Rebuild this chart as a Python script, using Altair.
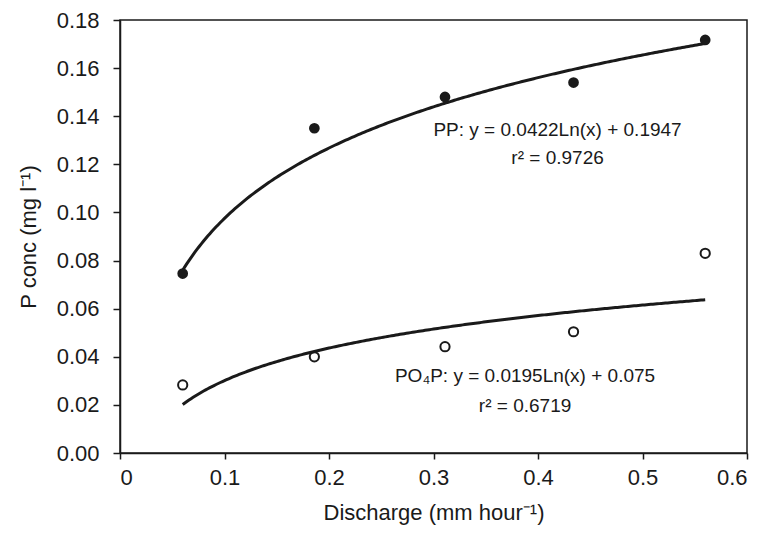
import altair as alt
import pandas as pd

# Discharge rate (mm hour^-1) at each sampling step
discharge = [0.060, 0.186, 0.311, 0.434, 0.560]
# Particulate P (filled markers) and PO4-P (open markers), mg l^-1
pp_conc = [0.0746, 0.135, 0.148, 0.154, 0.1717]
po4p_conc = [0.0283, 0.040, 0.0442, 0.0504, 0.083]

# Logarithmic fits y = a*Ln(x) + b, as reported on the chart
fit_slope = [0.0422, 0.0195]
fit_intercept = [0.1947, 0.075]

# Fit annotations
note_text = ["PP: y = 0.0422Ln(x) + 0.1947", "r\u00b2 = 0.9726",
             "PO\u2084P: y = 0.0195Ln(x) + 0.075", "r\u00b2 = 0.6719"]
note_x = [0.4187, 0.4187, 0.3876, 0.3876]
note_y = [0.1317, 0.1200, 0.0296, 0.0171]

FONT = "Liberation Sans"
INK = "#1a1a1a"

pp = pd.DataFrame({"q": discharge, "p": pp_conc})
po = pd.DataFrame({"q": discharge, "p": po4p_conc})
notes = pd.DataFrame({"text": note_text, "q": note_x, "p": note_y})

x_scale = alt.Scale(domain=[0, 0.6], nice=False, zero=True)
y_scale = alt.Scale(domain=[0, 0.18], nice=False)

axis_style = dict(
    grid=False,
    domainColor=INK, domainWidth=1.5,
    tickColor=INK, tickWidth=1.5,
    labelFont=FONT, labelFontSize=22, labelColor=INK,
    titleFont=FONT, titleFontSize=22, titleColor=INK, titleFontWeight="normal",
)

x_axis = alt.Axis(
    title="Discharge (mm hour\u207b\u00b9)",
    values=[0, 0.1, 0.2, 0.3, 0.4, 0.5, 0.6],
    labelExpr="datum.value == 0 ? '0' : format(datum.value, '.1f')",
    tickSize=6, labelPadding=8, titlePadding=14,
    **axis_style,
)
y_axis = alt.Axis(
    title="P conc (mg l\u207b\u00b9)",
    values=[round(0.02 * i, 2) for i in range(10)],
    format=".2f",
    tickSize=7, labelPadding=14, titlePadding=16,
    **axis_style,
)

X = alt.X("q:Q", scale=x_scale, axis=x_axis)
Y = alt.Y("p:Q", scale=y_scale, axis=y_axis)

pp_points = alt.Chart(pp).mark_point(
    shape="circle", filled=True, color=INK, size=115, opacity=1
).encode(x=X, y=Y)

po_points = alt.Chart(po).mark_point(
    shape="circle", filled=False, color=INK, size=85, strokeWidth=2, opacity=1
).encode(x=X, y=Y)

# Trend curves over the sampled discharge range, one per series
curves = []
for a, b in zip(fit_slope, fit_intercept):
    curves.append(
        alt.Chart(alt.sequence(min(discharge), max(discharge) + 1e-4, 0.002, as_="q"))
        .transform_calculate(p=f"{a} * log(datum.q) + {b}")
        .mark_line(color=INK, strokeWidth=3)
        .encode(x=X, y=Y)
    )

labels = alt.Chart(notes).mark_text(
    font=FONT, fontSize=19, color=INK, align="center", baseline="alphabetic"
).encode(x=X, y=Y, text="text:N")

chart = alt.layer(*curves, pp_points, po_points, labels).properties(
    width=627,
    height=433,
    background="white",
    autosize=alt.AutoSizeParams(type="none"),
    padding={"left": 120, "top": 20, "right": 17, "bottom": 93},
).configure_view(
    stroke=INK, strokeWidth=1.5
)

chart.save("out.html", embed_options={"renderer": "svg", "actions": False})
